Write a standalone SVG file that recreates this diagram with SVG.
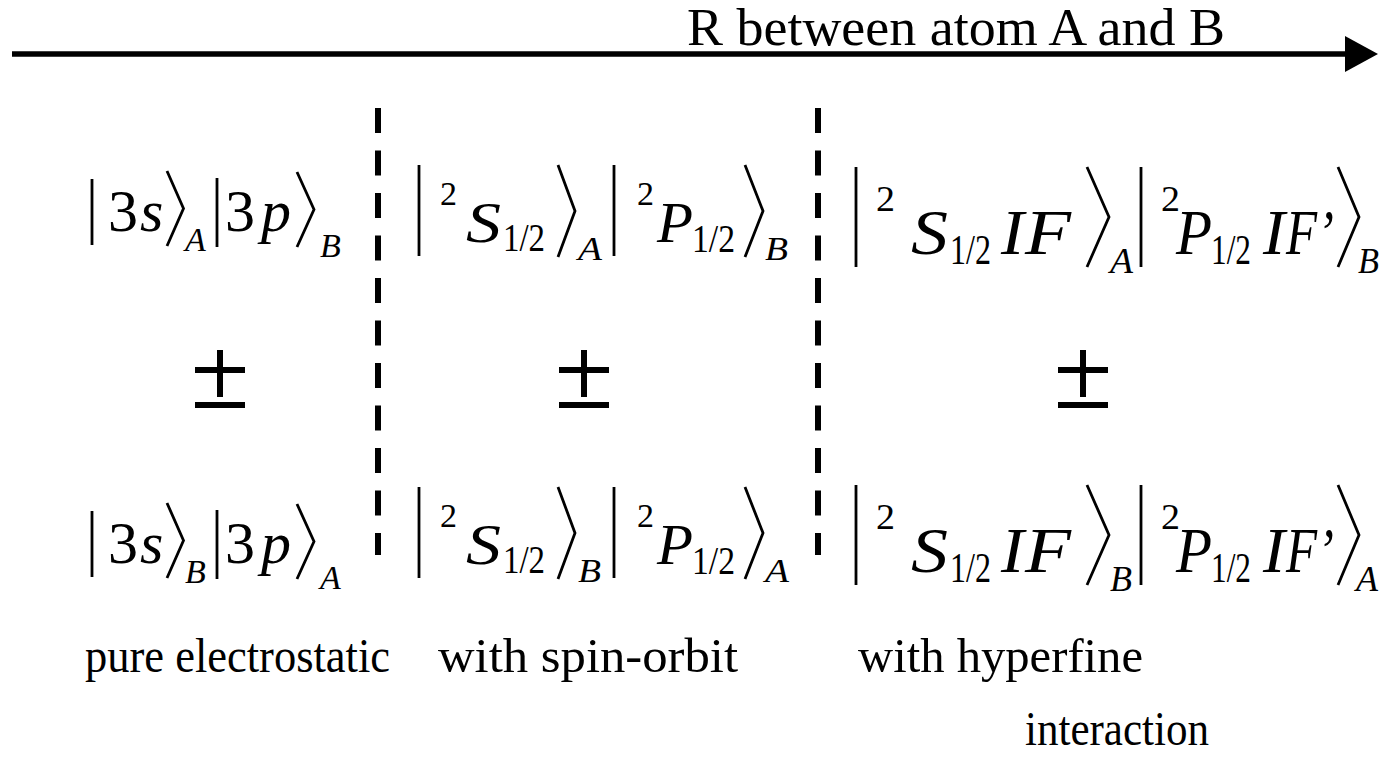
<svg xmlns="http://www.w3.org/2000/svg" width="1379" height="759" viewBox="0 0 1379 759">
<style>
text{font-family:"Liberation Serif","Times New Roman",serif;fill:#000}
.m{font-size:60px}
.i{font-style:italic}
.sub{font-size:34px;font-style:italic}
.sup{font-size:33px}
.fr{font-size:40px}
.m2{font-size:58px;font-style:italic}
.m3{font-size:64px;font-style:italic}
.sup3{font-size:35px}
.fr3{font-size:42px}
.sub3{font-size:36px;font-style:italic}
.lbl{font-size:48px}
.fence{fill:none;stroke:#000;stroke-width:2.8;stroke-linejoin:miter}
.dash{stroke:#000;stroke-width:6;stroke-dasharray:25 17.5}
.pm{stroke:#000;stroke-width:6}
</style>
<rect width="1379" height="759" fill="#fff"/>
<g id="axis">
  <line x1="12" y1="54" x2="1347" y2="54" stroke="#000" stroke-width="5.5"/>
  <polygon points="1345,36 1378,54 1345,72" fill="#000"/>
  <text x="687" y="45" font-size="52" textLength="538" lengthAdjust="spacingAndGlyphs">R between atom A and B</text>
</g>
<g id="dividers">
  <line class="dash" x1="378" y1="108" x2="378" y2="555"/>
  <line class="dash" x1="818" y1="108" x2="818" y2="555"/>
</g>
<g id="col1-top">
  <polyline class="fence" points="92,179 92,245"/>
  <text class="m" x="108" y="231">3</text><text class="m i" x="140" y="231">s</text>
  <polyline class="fence" points="167,171 183.5,208.5 167,246"/>
  <text class="sub" x="185" y="251">A</text>
  <polyline class="fence" points="217,178 217,247"/>
  <text class="m" x="225" y="231">3</text><text class="m i" x="261" y="231">p</text>
  <polyline class="fence" points="297,172 314,209.5 297,247"/>
  <text class="sub" x="320" y="257">B</text>
</g>
<g id="col1-bottom" transform="translate(0,332)">
  <polyline class="fence" points="92,179 92,245"/>
  <text class="m" x="108" y="231">3</text><text class="m i" x="140" y="231">s</text>
  <polyline class="fence" points="167,171 183.5,208.5 167,246"/>
  <text class="sub" x="185" y="251">B</text>
  <polyline class="fence" points="217,178 217,247"/>
  <text class="m" x="225" y="231">3</text><text class="m i" x="261" y="231">p</text>
  <polyline class="fence" points="297,172 314,209.5 297,247"/>
  <text class="sub" x="320" y="257">A</text>
</g>
<g id="col2-top">
  <polyline class="fence" points="419,165 419,256"/>
  <text class="sup" x="440" y="205" textLength="17" lengthAdjust="spacingAndGlyphs">2</text>
  <text class="m2" x="466" y="242" textLength="35" lengthAdjust="spacingAndGlyphs">S</text>
  <text class="fr" x="503" y="251" textLength="42" lengthAdjust="spacingAndGlyphs">1/2</text>
  <polyline class="fence" points="558,165 575,211 558,257"/>
  <text class="sub" x="578" y="260" textLength="24" lengthAdjust="spacingAndGlyphs">A</text>
  <polyline class="fence" points="614,165 614,256"/>
  <text class="sup" x="637" y="205" textLength="17" lengthAdjust="spacingAndGlyphs">2</text>
  <text class="m2" x="657" y="242" textLength="36" lengthAdjust="spacingAndGlyphs">P</text>
  <text class="fr" x="692" y="252" textLength="43" lengthAdjust="spacingAndGlyphs">1/2</text>
  <polyline class="fence" points="745,165 763,211 745,257"/>
  <text class="sub" x="765" y="260" textLength="23" lengthAdjust="spacingAndGlyphs">B</text>
</g>
<g id="col2-bottom" transform="translate(0,322)">
  <polyline class="fence" points="419,165 419,256"/>
  <text class="sup" x="440" y="205" textLength="17" lengthAdjust="spacingAndGlyphs">2</text>
  <text class="m2" x="466" y="242" textLength="35" lengthAdjust="spacingAndGlyphs">S</text>
  <text class="fr" x="503" y="251" textLength="42" lengthAdjust="spacingAndGlyphs">1/2</text>
  <polyline class="fence" points="558,165 575,211 558,257"/>
  <text class="sub" x="578" y="260" textLength="23" lengthAdjust="spacingAndGlyphs">B</text>
  <polyline class="fence" points="614,165 614,256"/>
  <text class="sup" x="637" y="205" textLength="17" lengthAdjust="spacingAndGlyphs">2</text>
  <text class="m2" x="657" y="242" textLength="36" lengthAdjust="spacingAndGlyphs">P</text>
  <text class="fr" x="692" y="252" textLength="43" lengthAdjust="spacingAndGlyphs">1/2</text>
  <polyline class="fence" points="745,165 763,211 745,257"/>
  <text class="sub" x="765" y="260" textLength="24" lengthAdjust="spacingAndGlyphs">A</text>
</g>
<g id="col3-top">
  <polyline class="fence" points="856,167 856,267"/>
  <text class="sup3" x="876" y="211" textLength="19" lengthAdjust="spacingAndGlyphs">2</text>
  <text class="m3" x="911" y="254" textLength="37" lengthAdjust="spacingAndGlyphs">S</text>
  <text class="fr3" x="950" y="264" textLength="41" lengthAdjust="spacingAndGlyphs">1/2</text>
  <text class="m3" x="1001" y="254" textLength="23" lengthAdjust="spacingAndGlyphs">I</text>
  <text class="m3" x="1025" y="254" textLength="46" lengthAdjust="spacingAndGlyphs">F</text>
  <polyline class="fence" points="1087,167 1109,217 1087,267"/>
  <text class="sub3" x="1110" y="273" textLength="23" lengthAdjust="spacingAndGlyphs">A</text>
  <polyline class="fence" points="1141,167 1141,267"/>
  <text class="sup3" x="1161" y="211" textLength="19" lengthAdjust="spacingAndGlyphs">2</text>
  <text class="m3" x="1176" y="254" textLength="36" lengthAdjust="spacingAndGlyphs">P</text>
  <text class="fr3" x="1211" y="264" textLength="40" lengthAdjust="spacingAndGlyphs">1/2</text>
  <text class="m3" x="1263" y="254" textLength="22" lengthAdjust="spacingAndGlyphs">I</text>
  <text class="m3" x="1286" y="254" textLength="48" lengthAdjust="spacingAndGlyphs">F’</text>
  <polyline class="fence" points="1338,167 1359,217 1338,267"/>
  <text class="sub3" x="1358" y="273" textLength="21" lengthAdjust="spacingAndGlyphs">B</text>
</g>
<g id="col3-bottom" transform="translate(0,318)">
  <polyline class="fence" points="856,167 856,267"/>
  <text class="sup3" x="876" y="211" textLength="19" lengthAdjust="spacingAndGlyphs">2</text>
  <text class="m3" x="911" y="254" textLength="37" lengthAdjust="spacingAndGlyphs">S</text>
  <text class="fr3" x="950" y="264" textLength="41" lengthAdjust="spacingAndGlyphs">1/2</text>
  <text class="m3" x="1001" y="254" textLength="23" lengthAdjust="spacingAndGlyphs">I</text>
  <text class="m3" x="1025" y="254" textLength="46" lengthAdjust="spacingAndGlyphs">F</text>
  <polyline class="fence" points="1087,167 1109,217 1087,267"/>
  <text class="sub3" x="1110" y="273" textLength="22" lengthAdjust="spacingAndGlyphs">B</text>
  <polyline class="fence" points="1141,167 1141,267"/>
  <text class="sup3" x="1161" y="211" textLength="19" lengthAdjust="spacingAndGlyphs">2</text>
  <text class="m3" x="1176" y="254" textLength="36" lengthAdjust="spacingAndGlyphs">P</text>
  <text class="fr3" x="1211" y="264" textLength="40" lengthAdjust="spacingAndGlyphs">1/2</text>
  <text class="m3" x="1263" y="254" textLength="22" lengthAdjust="spacingAndGlyphs">I</text>
  <text class="m3" x="1286" y="254" textLength="48" lengthAdjust="spacingAndGlyphs">F’</text>
  <polyline class="fence" points="1338,167 1359,217 1338,267"/>
  <text class="sub3" x="1356" y="273" textLength="22" lengthAdjust="spacingAndGlyphs">A</text>
</g>
<g id="pm1"><path class="pm" d="M195,370H245M220,350V397M195,405H245"/></g>
<g id="pm2"><path class="pm" d="M559,370H609M584,350V397M559,405H609"/></g>
<g id="pm3"><path class="pm" d="M1058,370H1108M1083,350V397M1058,405H1108"/></g>
<g id="labels">
  <text class="lbl" x="85" y="672" textLength="305" lengthAdjust="spacingAndGlyphs">pure electrostatic</text>
  <text class="lbl" x="438" y="672" textLength="300" lengthAdjust="spacingAndGlyphs">with spin-orbit</text>
  <text class="lbl" x="858" y="672" textLength="285" lengthAdjust="spacingAndGlyphs">with hyperfine</text>
  <text class="lbl" x="1025" y="745" textLength="184" lengthAdjust="spacingAndGlyphs">interaction</text>
</g>
</svg>
